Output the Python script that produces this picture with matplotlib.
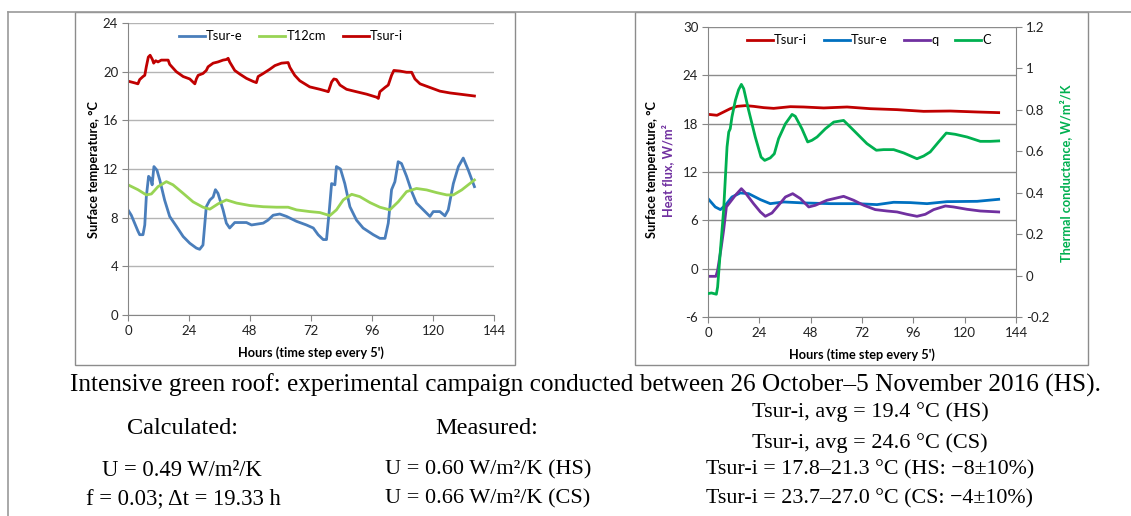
import matplotlib
matplotlib.use('Agg')
import matplotlib.pyplot as plt
from matplotlib.patches import Rectangle
from matplotlib.lines import Line2D
from matplotlib.ticker import FuncFormatter

# ---- data (hours, value) ----
# left chart: surface temperatures, °C
tsur_e_h = [0, 1.3, 2.6, 3.9, 4.6, 5.9, 6.6, 7.2, 8.1, 8.9, 9.5, 10.2, 11.4, 12.5, 14.4, 16.4,
            19, 21.7, 24.3, 26.9, 28.2, 29.5, 30.8, 32.2, 33.5, 34.4, 35.4, 37.4, 38.7, 40,
            42, 46.6, 48.6, 53.2, 55.1, 57.1, 59.7, 62.4, 66.3, 70.2, 72.9, 74.8, 76.8, 78.1,
            79.2, 80.1, 81.4, 82, 83.6, 85.3, 87.3, 89.9, 92.5, 96.5, 99.1, 101.1, 102.4,
            103.7, 105, 106.3, 107.6, 109.6, 111.6, 113.5, 116.2, 118.8, 120.1, 122.7,
            124.7, 126, 128, 130, 131.9, 133.9, 136.3]
tsur_e_v = [8.64, 8.2, 7.55, 6.9, 6.6, 6.6, 7.4, 9.7, 11.4, 11.2, 10.7, 12.2, 11.9, 11.1, 9.45,
            8.1, 7.3, 6.45, 5.9, 5.5, 5.4, 5.75, 8.9, 9.45, 9.7, 10.3, 10.0, 8.64, 7.55, 7.15,
            7.6, 7.6, 7.4, 7.55, 7.8, 8.2, 8.3, 8.1, 7.7, 7.4, 7.15, 6.6, 6.2, 6.2,
            8.6, 10.8, 10.7, 12.2, 12.0, 10.8, 8.9, 7.8, 7.15, 6.6, 6.3, 6.3, 7.55,
            10.3, 10.95, 12.6, 12.45, 11.4, 10.15, 9.2, 8.64, 8.1, 8.5, 8.5,
            8.15, 8.64, 10.8, 12.2, 12.9, 11.9, 10.55]

t12_h = [0, 3.9, 7.2, 9.2, 11.8, 15.1, 17.7, 21.7, 25.6, 29.5, 32.2, 35.4, 38.7, 42.7, 47.9,
         53.2, 58.4, 63, 66.3, 71.5, 75.5, 79.4, 82, 84.7, 88, 91.2, 95.2, 99.1, 103, 106.3,
         109.6, 113.5, 117.5, 121.4, 125.4, 128, 131.3, 136.3]
t12_v = [10.7, 10.3, 9.87, 9.95, 10.55, 10.96, 10.7, 10.0, 9.3, 8.86, 8.7, 9.13, 9.46, 9.2, 9.0,
         8.9, 8.86, 8.86, 8.64, 8.5, 8.42, 8.17, 8.64, 9.46, 9.92, 9.73, 9.24, 8.86, 8.64, 9.3,
         10.14, 10.4, 10.28, 10.06, 9.87, 9.87, 10.28, 11.1]

tsur_i_h = [0, 2.6, 3.9, 4.6, 5.9, 6.6, 7.2, 8, 8.7, 9.6, 10.1, 10.9, 11.8, 13.1, 15.8, 16.4,
            19, 21.7, 24.3, 26.3, 26.9, 27.6, 29.5, 30.8, 31.5, 33.5, 35.4, 37.4, 38.7, 39.4,
            40, 42, 44, 46.6, 49.2, 50.5, 51.2, 53.2, 55.8, 57.8, 60.4, 63, 63.7, 65.6, 67.6,
            71.5, 75.5, 78.1, 78.8, 80.1, 81, 82, 83.4, 86, 89.9, 93.9, 97.8, 98.5, 99.1,
            101.1, 102.4, 103.7, 104.6, 107, 109.6, 111.6, 112.9, 114.9, 118.8, 122.7,
            126.7, 130.6, 136.3]
tsur_i_v = [19.22, 19.08, 19.0, 19.35, 19.6, 19.7, 20.4, 21.2, 21.35, 21.0, 20.7, 20.9, 20.8,
            20.95, 20.95, 20.6, 20.0, 19.6, 19.4, 19.0, 19.4, 19.7, 19.85, 20.1, 20.4, 20.7,
            20.8, 20.95, 21.0, 21.1, 20.8, 20.1, 19.8, 19.45, 19.2, 19.1, 19.6, 19.85, 20.2,
            20.5, 20.7, 20.75, 20.35, 19.7, 19.25, 18.75, 18.55, 18.4, 18.35, 19.15, 19.4,
            19.35, 18.9, 18.55, 18.35, 18.15, 17.9, 17.8, 18.35, 18.7, 18.9, 19.7, 20.1,
            20.05, 19.95, 19.95, 19.4, 19.0, 18.7, 18.4, 18.25, 18.15, 18.0]

# right chart
r_tsi_h = [0, 4.2, 7.3, 10.4, 13.6, 17.5, 21.3, 26, 30.7, 38.5, 44.7, 54.1, 65, 75.9, 88.4,
           100.8, 113.3, 125.8, 135.9]
r_tsi_v = [19.16, 19.04, 19.45, 19.86, 20.15, 20.24, 20.15, 19.99, 19.9, 20.11, 20.07, 19.95,
           20.07, 19.86, 19.74, 19.53, 19.57, 19.45, 19.37]

r_tse_h = [0, 3.4, 5.8, 8.1, 11.2, 15.1, 19, 24.5, 29.1, 35.4, 44.7, 57.2, 69.7, 79, 86.8,
           94.6, 102.4, 111.7, 125.8, 135.9]
r_tse_v = [8.7, 7.66, 7.33, 7.87, 8.9, 9.4, 9.31, 8.57, 8.07, 8.28, 8.16, 8.07, 8.07, 7.95,
           8.24, 8.2, 8.07, 8.32, 8.36, 8.61]

q_h = [0, 3.7, 4.5, 6.1, 7.3, 8.6, 10.4, 12.8, 15.6, 17.5, 21.3, 24.5, 26.8, 29.9, 32.3, 36.2,
       39.6, 43.2, 47.1, 50.2, 55.6, 63.4, 68.1, 72.8, 78.2, 83.7, 88.4, 93, 97.7, 101.6,
       105.5, 111, 114.8, 121.1, 127.3, 135.9]
q_v = [-0.95, -0.95, -0.2, 2.49, 4.76, 7.66, 8.28, 9.11, 9.93, 9.4, 8.07, 7.04, 6.5, 6.91,
       7.66, 8.9, 9.31, 8.7, 7.66, 7.87, 8.49, 8.98, 8.49, 7.87, 7.33, 7.16, 7.04, 6.75, 6.5,
       6.75, 7.33, 7.78, 7.66, 7.37, 7.16, 7.04]

c_h = [0, 1.6, 3.9, 4.5, 5.8, 7.3, 8.9, 9.7, 10.4, 11.2, 12.8, 14.3, 15.6, 16.7, 19, 22.1,
       24.8, 26.5, 29.1, 31, 33, 36.2, 39.3, 40.8, 43.9, 46.6, 48.6, 51, 54.9, 58.8, 63.4,
       68.1, 74.3, 78.7, 82.1, 86.8, 91.5, 97.7, 100.8, 103.9, 107.8, 111.4, 115.6, 121.1,
       127.3, 132, 135.9]
c_v = [-0.087, -0.084, -0.09, -0.055, 0.122, 0.315, 0.621, 0.693, 0.709, 0.766, 0.846, 0.897,
       0.923, 0.902, 0.798, 0.669, 0.572, 0.556, 0.568, 0.588, 0.661, 0.733, 0.778, 0.769,
       0.709, 0.645, 0.653, 0.669, 0.709, 0.741, 0.749, 0.701, 0.637, 0.605, 0.608, 0.608,
       0.592, 0.564, 0.577, 0.597, 0.645, 0.688, 0.682, 0.669, 0.648, 0.648, 0.65]

W, H = 1131, 516
plt.rcParams['font.family'] = ['Lato', 'DejaVu Sans']
plt.rcParams['axes.unicode_minus'] = False

fig = plt.figure(figsize=(W / 100, H / 100), dpi=100)

TICK_FS = 9.5
LAB_FS = 9.2
LEG_FS = 9.3
LW = 2.0


def fbox(x0, y0, x1, y1):
    # pixel box -> figure fraction [left, bottom, width, height]
    return [x0 / W, 1 - y1 / H, (x1 - x0) / W, (y1 - y0) / H]


def style_axes(ax, gridcol):
    for s in ['top', 'right']:
        ax.spines[s].set_visible(False)
    for s in ['left', 'bottom']:
        ax.spines[s].set_color('#868686')
    ax.tick_params(direction='out', length=4, color='#868686', labelsize=TICK_FS,
                   labelcolor='#222222', pad=3)
    ax.set_xlim(0, 144)
    ax.set_xticks(range(0, 145, 24))
    ax.grid(axis='y', color=gridcol, lw=1)
    ax.set_axisbelow(True)


# ---- left chart ----
ax1 = fig.add_axes(fbox(128, 23, 494, 315))
style_axes(ax1, '#b4b4b4')
ax1.set_ylim(0, 24)
ax1.set_yticks(range(0, 25, 4))
ax1.plot(tsur_e_h, tsur_e_v, color='#4a7ebb', lw=LW, label='Tsur-e')
ax1.plot(t12_h, t12_v, color='#98d454', lw=LW, label='T12cm')
ax1.plot(tsur_i_h, tsur_i_v, color='#c00000', lw=LW, label='Tsur-i')
ax1.legend(loc='center', bbox_to_anchor=(0.445, 0.955), ncol=3, frameon=False,
           fontsize=LEG_FS, handlelength=2.0, handletextpad=0.1, columnspacing=1.3)
ax1.set_xlabel("Hours (time step every 5')", fontsize=LAB_FS, fontweight='bold', labelpad=7)
ax1.set_ylabel('Surface temperature, °C', fontsize=LAB_FS, fontweight='bold', labelpad=2)

# ---- right chart ----
ax2 = fig.add_axes(fbox(708, 27, 1016, 317))
style_axes(ax2, '#8c8c8c')
ax2.set_ylim(-6, 30)
ax2.set_yticks(range(-6, 31, 6))
ax3 = ax2.twinx()
for s in ['top', 'left', 'bottom']:
    ax3.spines[s].set_visible(False)
ax3.spines['right'].set_color('#868686')
ax3.tick_params(direction='out', length=4, color='#868686', labelsize=TICK_FS,
                labelcolor='#222222', pad=3)
ax3.set_ylim(-0.2, 1.2)
ax3.set_yticks([-0.2, 0, 0.2, 0.4, 0.6, 0.8, 1.0, 1.2])
ax3.yaxis.set_major_formatter(FuncFormatter(lambda v, p: '%g' % round(v, 1)))

l1, = ax2.plot(r_tsi_h, r_tsi_v, color='#c00000', lw=LW, label='Tsur-i')
l2, = ax2.plot(r_tse_h, r_tse_v, color='#0070c0', lw=LW, label='Tsur-e')
l3, = ax2.plot(q_h, q_v, color='#7030a0', lw=LW, label='q')
l4, = ax3.plot(c_h, c_v, color='#00b050', lw=LW, label='C')
ax3.legend(handles=[l1, l2, l3, l4], loc='center', bbox_to_anchor=(0.523, 0.955), ncol=4,
           frameon=False, fontsize=LEG_FS, handlelength=2.0, handletextpad=0.1,
           columnspacing=1.3)
ax2.set_xlabel("Hours (time step every 5')", fontsize=LAB_FS, fontweight='bold', labelpad=7)
fig.text(652 / W, 1 - 170 / H, 'Surface temperature, °C', rotation=90, fontsize=LAB_FS,
         fontweight='bold', ha='center', va='center')
fig.text(668 / W, 1 - 171 / H, 'Heat flux, W/m²', rotation=90, fontsize=LAB_FS,
         fontweight='bold', color='#7030a0', ha='center', va='center')
fig.text(1066 / W, 1 - 173 / H, 'Thermal conductance, W/m²/K', rotation=90, fontsize=LAB_FS,
         fontweight='bold', color='#00b050', ha='center', va='center')

# ---- table frame and chart borders ----
for x0, x1 in [(75, 515), (635, 1088)]:
    fig.add_artist(Rectangle((x0 / W, 1 - 365 / H), (x1 - x0) / W, 353 / H,
                             transform=fig.transFigure, fill=False, ec='#8c8c8c', lw=1))
fig.add_artist(Line2D([8 / W, 1], [1 - 12 / H, 1 - 12 / H], transform=fig.transFigure,
                      color='#9a9a9a', lw=1.2))
fig.add_artist(Line2D([8 / W, 8 / W], [0, 1 - 12 / H], transform=fig.transFigure,
                      color='#9a9a9a', lw=1.2))

# ---- text below ----
serif = ['Liberation Serif', 'DejaVu Serif']
rows = [
    (585, 385, 18.2, 'Intensive green roof: experimental campaign conducted between 26 October–5 November 2016 (HS).'),
    (182, 429, 17.5, 'Calculated:'),
    (487, 429, 17.5, 'Measured:'),
    (870, 412, 16, 'Tsur-i, avg = 19.4 °C (HS)'),
    (870, 443, 16, 'Tsur-i, avg = 24.6 °C (CS)'),
    (182, 470, 16.3, 'U = 0.49 W/m²/K'),
    (488, 470, 16, 'U = 0.60 W/m²/K (HS)'),
    (870, 470, 15.8, 'Tsur-i = 17.8–21.3 °C (HS: −8±10%)'),
    (183, 499, 16.3, 'f = 0.03; Δt = 19.33 h'),
    (488, 499, 16, 'U = 0.66 W/m²/K (CS)'),
    (870, 499, 15.8, 'Tsur-i = 23.7–27.0 °C (CS: −4±10%)'),
]
for x, y, fs, s in rows:
    fig.text(x / W, 1 - y / H, s, family=serif, fontsize=fs, ha='center', va='center',
             color='black')

fig.savefig('out.png', dpi=100)
